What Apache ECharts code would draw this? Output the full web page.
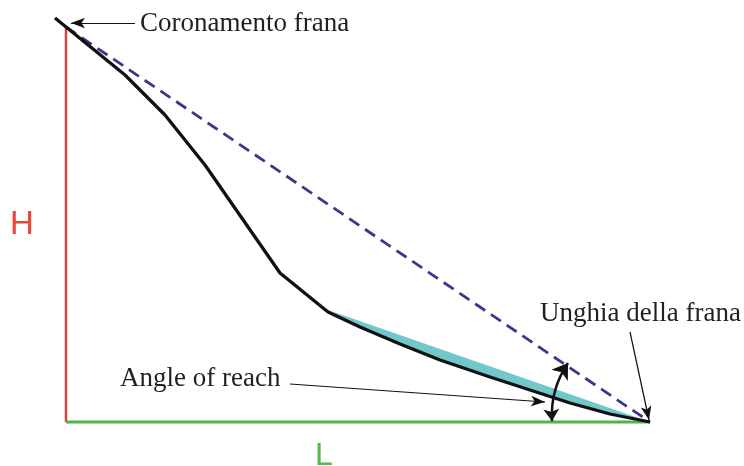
<!DOCTYPE html>
<html>
<head>
<meta charset="utf-8">
<script src="https://cdn.jsdelivr.net/npm/echarts@6/dist/echarts.min.js"></script>
<style>html,body{margin:0;padding:0;background:#fff}#c{width:744px;height:466px}</style>
</head>
<body>
<div id="c"></div>
<script>
// Slope profile (horizontal distance from crown, elevation above toe)
const profileX = [-11, 59, 99, 139, 214, 262, 294, 334, 374, 424, 464, 504, 544, 584];
const profileY = [404, 347, 307, 257, 149, 110, 95, 78, 62, 45, 32, 19, 8, 0];
// Upper limit of the deposit (cyan body)
const depositTopX = [262, 584];
const depositTopY = [112, 0];
// Crown and toe of the landslide
const crown = [0, 395];
const toe = [584, 0];
// Labels
const labelCrown = 'Coronamento frana';
const labelToe = 'Unghia della frana';
const labelAngle = 'Angle of reach';
const labelH = 'H';
const labelL = 'L';

const profile = profileX.map((x, i) => [x, profileY[i]]);
const depositTop = depositTopX.map((x, i) => [x, depositTopY[i]]);
const depositBottom = profile.filter(p => p[0] >= depositTopX[0]);
const depositPoly = depositTop.concat(depositBottom.slice().reverse());

const chart = echarts.init(document.getElementById('c'), null, {renderer: 'canvas'});
const serif = '"Liberation Serif", "Times New Roman", serif';
const sans = '"Liberation Sans", Arial, sans-serif';
const txt = '#231f20';

chart.setOption({
  animation: false,
  grid: {left: 0, right: 0, top: 0, bottom: 0},
  xAxis: {type: 'value', min: -66, max: 678, show: false},
  yAxis: {type: 'value', min: -44, max: 422, show: false},
  series: [
    {
      type: 'custom',
      z: 1,
      data: [[0]],
      renderItem: function (params, api) {
        return {
          type: 'polygon',
          shape: {points: depositPoly.map(p => api.coord(p))},
          style: {fill: '#72c7cb'}
        };
      }
    },
    {
      type: 'line', z: 2, symbol: 'none',
      data: [crown, [crown[0], 0]],
      lineStyle: {color: '#e2413a', width: 2.5}
    },
    {
      type: 'line', z: 2, symbol: 'none',
      data: [[crown[0], 0], toe],
      lineStyle: {color: '#4db848', width: 3}
    },
    {
      type: 'line', z: 3, symbol: 'none',
      data: [crown, toe],
      lineStyle: {color: '#38388f', width: 2.8, type: [12, 7]}
    },
    {
      type: 'line', z: 4, symbol: 'none',
      data: profile,
      lineStyle: {color: '#111111', width: 3.3, join: 'round'},
      markLine: {
        silent: true,
        symbol: ['none', 'arrow'],
        label: {show: false},
        lineStyle: {type: 'solid', color: '#111', width: 1.2},
        emphasis: {disabled: true},
        data: [
          [
            {coord: [69, 399], symbol: 'none'},
            {coord: [5, 399], symbol: 'arrow', symbolSize: [8, 14]}
          ],
          [
            {coord: [224, 38], symbol: 'none'},
            {coord: [479, 20], symbol: 'arrow', symbolSize: [8, 14]}
          ],
          [
            {coord: [564, 90], symbol: 'none'},
            {coord: [583, 2], symbol: 'arrow', symbolSize: [8, 14]}
          ]
        ]
      }
    },
    {
      type: 'lines',
      coordinateSystem: 'cartesian2d',
      z: 5,
      silent: true,
      symbol: ['arrow', 'arrow'],
      symbolSize: [12, 15],
      lineStyle: {type: 'solid', color: '#111', width: 2.5, curveness: 0.17, opacity: 1},
      data: [
        {coords: [[486, 1], [502, 59]]}
      ]
    }
  ],
  graphic: [
    {type: 'text', x: 140, y: 24, z: 10, style: {text: labelCrown, font: '27px ' + serif, fill: txt, verticalAlign: 'middle'}},
    {type: 'text', x: 540, y: 314, z: 10, style: {text: labelToe, font: '27px ' + serif, fill: txt, verticalAlign: 'middle'}},
    {type: 'text', x: 120, y: 379, z: 10, style: {text: labelAngle, font: '27px ' + serif, fill: txt, verticalAlign: 'middle'}},
    {type: 'text', x: 22, y: 225, z: 10, style: {text: labelH, font: '33px ' + sans, fill: '#e8463a', align: 'center', verticalAlign: 'middle'}},
    {type: 'text', x: 324, y: 456, z: 10, style: {text: labelL, font: '32px ' + sans, fill: '#54b948', align: 'center', verticalAlign: 'middle'}}
  ]
});
</script>
</body>
</html>
